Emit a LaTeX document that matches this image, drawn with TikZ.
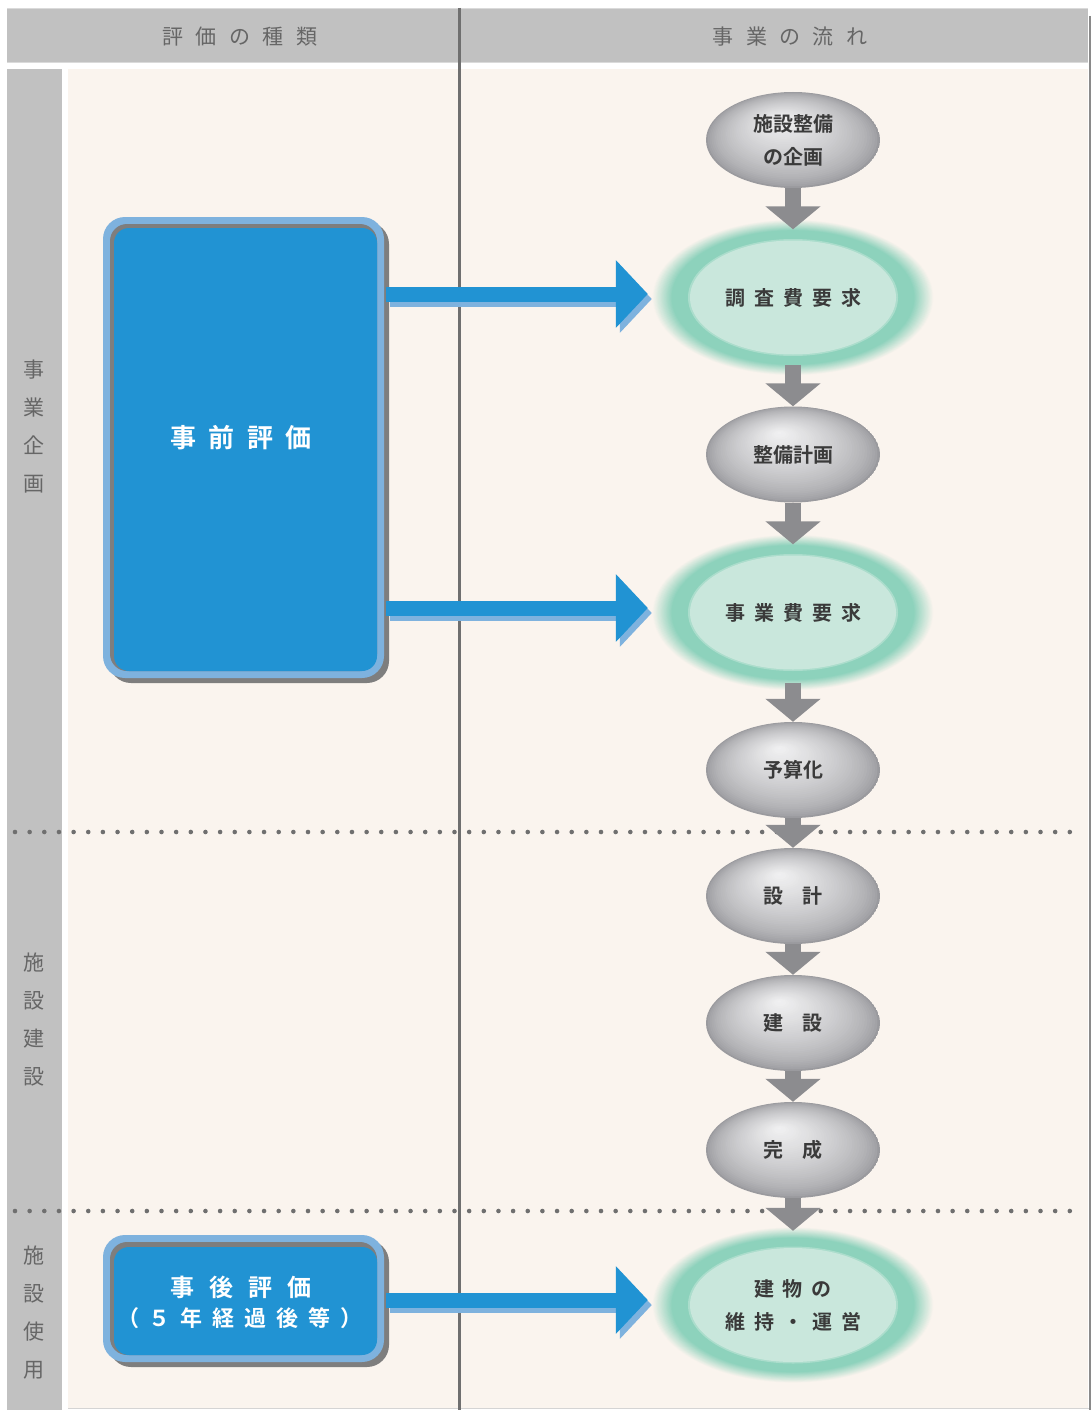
\documentclass[tikz,border=0pt]{standalone}
\usepackage{fontspec}
\setmainfont{Noto Sans CJK JP}[BoldFont={Noto Sans CJK JP Bold}]
\usetikzlibrary{shapes.geometric,arrows.meta,calc}
\definecolor{hdrgray}{HTML}{C1C1C1}
\definecolor{hdredge}{HTML}{DADADA}
\definecolor{cream}{HTML}{FAF4EE}
\definecolor{divgray}{HTML}{6F6F6F}
\definecolor{txtgray}{HTML}{666666}
\definecolor{boxblue}{HTML}{2193D3}
\definecolor{lblue}{HTML}{7EB2DE}
\definecolor{shgray}{HTML}{7E7E7E}
\definecolor{arrgray}{HTML}{8C8C8F}
\definecolor{darktxt}{HTML}{3A3A3A}
\definecolor{gA}{HTML}{F2F2F3}
\definecolor{gD}{HTML}{9A9A9E}
\definecolor{gin}{HTML}{C9E7DC}
\definecolor{gring}{HTML}{8DD2BC}
\definecolor{edgegray}{HTML}{8A8A8A}
\definecolor{edgelight}{HTML}{D4D4D4}
\newcommand\hdrfont{\fontsize{21pt}{25pt}\selectfont}
\newcommand\sidefont{\fontsize{21pt}{38pt}\selectfont}
\newcommand\ellfont{\bfseries\fontsize{20pt}{33pt}\selectfont}
\newcommand\spc[1]{\hspace*{#1}}
\tikzset{
  grayell/.style={ellipse, minimum width=174pt, minimum height=96pt, inner sep=0pt,
    font=\ellfont, text=darktxt, align=center,
    path picture={
      \foreach \k in {0,...,40}{
        \pgfmathsetmacro\gs{1-\k/40}
        \pgfmathtruncatemacro\gp{100*((\k+0.01)/40)^0.65}
        \fill[gA!\gp!gD] ([shift={(-14*\k/40,-22*\k/40)}]path picture bounding box.center)
          ellipse [x radius=87*\gs, y radius=48*\gs];
      }
    }},
  greenell/.style={ellipse, minimum width=282pt, minimum height=156pt, inner sep=0pt,
    font=\ellfont, text=darktxt, align=center,
    path picture={
      \foreach \k in {0,...,24}{
        \pgfmathsetmacro\gs{1-0.14*\k/24}
        \pgfmathtruncatemacro\gp{100*\k/24}
        \fill[gring!\gp!cream] (path picture bounding box.center)
          ellipse [x radius=141*\gs, y radius=78*\gs];
      }
      \fill[gring!50!gin] (path picture bounding box.center) ellipse [x radius=105, y radius=58.5];
      \fill[gin] (path picture bounding box.center) ellipse [x radius=103, y radius=57];
    }},
  downarr/.style={draw=arrgray, line width=16pt, -{Triangle[width=54pt,length=23pt]}},
  bluearr/.style={draw=boxblue, line width=15pt, -{Triangle[width=66pt,length=32pt]}},
  bluearrsh/.style={draw=lblue, line width=15pt, -{Triangle[width=66pt,length=32pt]},
    transform canvas={xshift=4pt,yshift=-5pt}},
  hdr/.style={font=\hdrfont, text=txtgray, inner sep=0pt},
  side/.style={font=\sidefont, text=txtgray, align=center, inner sep=0pt},
  bluebox/.style={fill=boxblue, rounded corners=15pt, inner sep=0pt},
  boxtext/.style={text=white, font=\bfseries, align=center, inner sep=0pt},
  dotline/.style={draw=divgray, line width=4.6pt, line cap=round, dash pattern=on 0pt off 14.65pt}
}
\begin{document}
\begin{tikzpicture}[x=1pt,y=-1pt]
\useasboundingbox (0,0) rectangle (1091,1410);
\fill[white] (0,0) rectangle (1091,1410);
% header band
\fill[hdrgray] (7,8) rectangle (1088,63);
\draw[hdredge, line width=1pt] (7,8.5) -- (1088,8.5);
\draw[hdredge, line width=1pt] (7,62.5) -- (1088,62.5);
% side column and main area
\fill[hdrgray] (7,69) rectangle (62,1410);
\fill[cream] (68,69) rectangle (1088,1408);
\draw[edgelight, line width=1.5pt] (68,1408.7) -- (1089,1408.7);
\draw[edgegray, line width=2pt] (1089.5,16) -- (1089.5,1410);
% dotted section separators
\draw[dotline] (15,832) -- (1075,832);
\draw[dotline] (15,1211) -- (1075,1211);
% column divider
\draw[divgray, line width=3pt] (459,8) -- (459,1410);
% header texts
\node[hdr] (h1) at (240,37) {評\spc{12.5pt}価\spc{12.5pt}の\spc{12.5pt}種\spc{12.5pt}類};
\node[hdr] (h2) at (790,37) {事\spc{12.5pt}業\spc{12.5pt}の\spc{12.5pt}流\spc{12.5pt}れ};
% side labels
\node[side] (s1) at (34,427) {事\\業\\企\\画};
\node[side] (s2) at (34,1019) {施\\設\\建\\設};
\node[side] (s3) at (34,1313) {施\\設\\使\\用};
% box 1 (pre evaluation)
\fill[shgray, rounded corners=22pt] (109,222) rectangle (389,683);
\fill[lblue, rounded corners=22pt] (103,217) rectangle (384,678);
\fill[shgray, rounded corners=17pt] (110,224) rectangle (377,671);
\node[bluebox, minimum width=263pt, minimum height=443pt] (pre) at (245.5,449.5) {};
\node[boxtext, font=\bfseries\fontsize{26pt}{30pt}\selectfont] (pret) at (241,438) {事\spc{12.5pt}前\spc{12.5pt}評\spc{12.5pt}価};
% box 2 (post evaluation)
\fill[shgray, rounded corners=22pt] (109,1240) rectangle (389,1367);
\fill[lblue, rounded corners=22pt] (103,1235) rectangle (384,1362);
\fill[shgray, rounded corners=17pt] (110,1242) rectangle (377,1355);
\node[bluebox, minimum width=263pt, minimum height=108pt] (post) at (245.5,1301) {};
\node[boxtext, font=\bfseries\fontsize{24pt}{28pt}\selectfont] (postt1) at (241,1287) {事\spc{15pt}後\spc{15pt}評\spc{15pt}価};
\node[boxtext, font=\bfseries\fontsize{22pt}{26pt}\selectfont] (postt2) at (240,1318) {（\spc{10pt}５\spc{10pt}年\spc{10pt}経\spc{10pt}過\spc{10pt}後\spc{10pt}等\spc{10pt}）};
% flow ellipses
\node[grayell] (e1) at (793,140) {施設整備\\の企画};
\node[greenell] (g1) at (793,297.5) {調\spc{9pt}査\spc{9pt}費\spc{9pt}要\spc{9pt}求};
\node[grayell] (e2) at (793,454.5) {整備計画};
\node[greenell] (g2) at (793,612.5) {事\spc{9pt}業\spc{9pt}費\spc{9pt}要\spc{9pt}求};
\node[grayell] (e3) at (793,770) {予算化};
\node[grayell] (e4) at (793,896) {設\spc{19pt}計};
\node[grayell] (e5) at (793,1023) {建\spc{19pt}設};
\node[grayell] (e6) at (793,1150) {完\spc{19pt}成};
\node[greenell] (g3) at (793,1305) {建\spc{9pt}物\spc{9pt}の\\維\spc{9pt}持\spc{9pt}・\spc{9pt}運\spc{9pt}営};
% down arrows
\draw[downarr] (e1.south) -- ([yshift=-10pt]g1.north);
\draw[downarr] ([yshift=11pt]g1.south) -- (e2.north);
\draw[downarr] (e2.south) -- ([yshift=-10pt]g2.north);
\draw[downarr] ([yshift=8pt]g2.south) -- (e3.north);
\draw[downarr] (e3.south) -- (e4.north);
\draw[downarr] (e4.south) -- (e5.north);
\draw[downarr] (e5.south) -- (e6.north);
\draw[downarr] (e6.south) -- ([yshift=-4pt]g3.north);
% blue arrows
\coordinate (a1) at (386,294);
\coordinate (a2) at (386,608);
\coordinate (a3) at (386,1300);
\coordinate (t1) at ($(g1.west |- a1)+(-4,0)$);
\coordinate (t2) at ($(g2.west |- a2)+(-4,0)$);
\coordinate (t3) at ($(g3.west |- a3)+(-4,0)$);
\draw[bluearrsh] (a1) -- (t1);
\draw[bluearr] (a1) -- (t1);
\draw[bluearrsh] (a2) -- (t2);
\draw[bluearr] (a2) -- (t2);
\draw[bluearrsh] (a3) -- (t3);
\draw[bluearr] (a3) -- (t3);
\end{tikzpicture}
\end{document}
